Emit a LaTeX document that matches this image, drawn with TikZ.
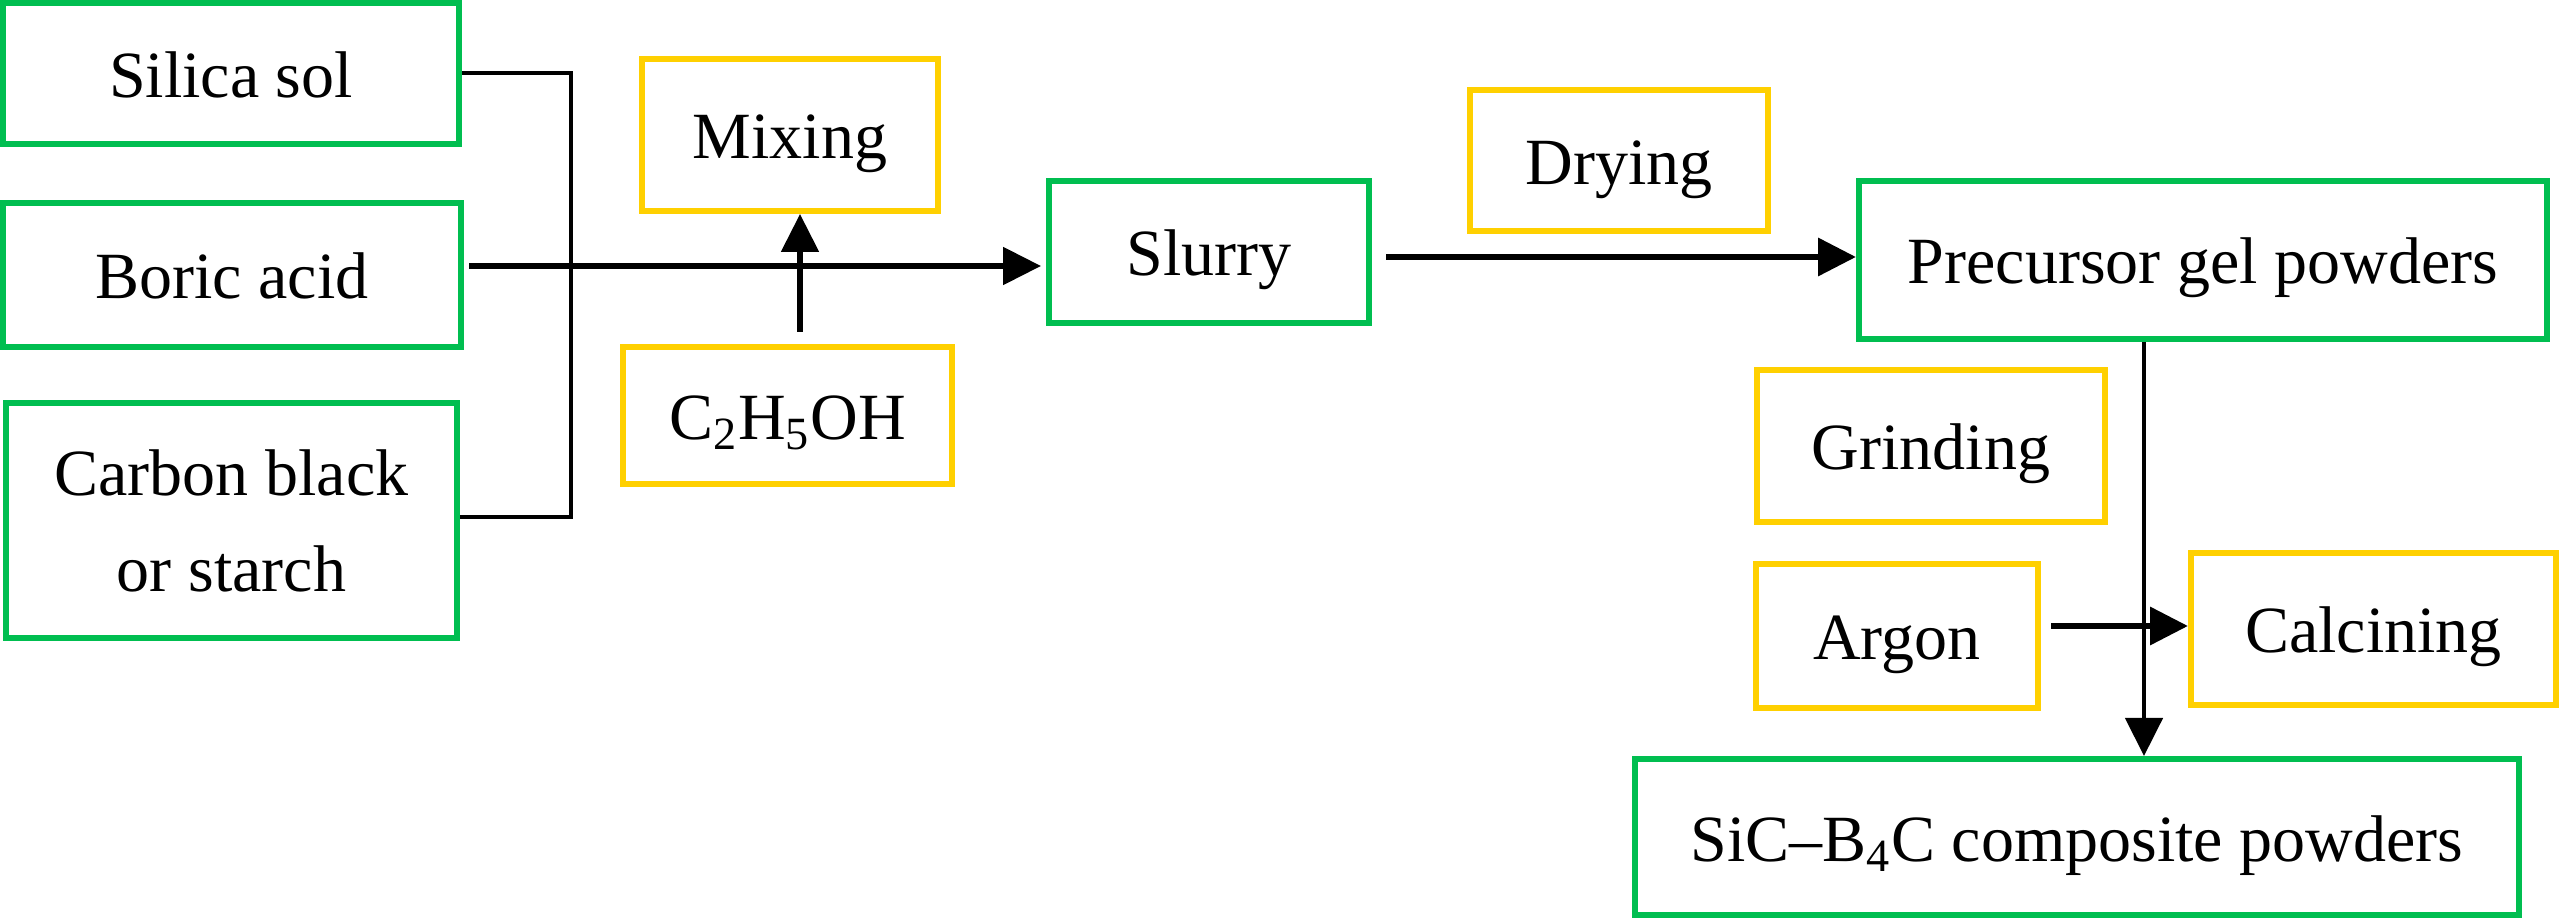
\documentclass[tikz,border=0pt]{standalone}
\usepackage{fontspec}
\setmainfont{Liberation Serif}
\usetikzlibrary{arrows.meta}
\definecolor{boxgreen}{RGB}{0,190,80}
\definecolor{boxyellow}{RGB}{255,208,0}
\begin{document}
\begin{tikzpicture}[x=0.3pt,y=-0.3pt,
  every node/.style={font=\fontsize{19.8}{28.8}\selectfont},
  box/.style={draw, rectangle, line width=1.8pt, inner sep=0pt},
  tx/.style={text height=18.5pt, text depth=4.1pt},
  gbox/.style={box, draw=boxgreen},
  ybox/.style={box, draw=boxyellow},
  sz/.style 2 args={minimum width=#1*0.3pt, minimum height=#2*0.3pt},
  link/.style={line width=1.2pt, line join=miter},
  arr/.style={line width=1.6pt, -{Triangle[length=11.4pt,width=11.1pt]}},
]
\fill[white] (0,0) rectangle (2559,919);
\useasboundingbox (0,0) rectangle (2559,919);

% boxes
\node[gbox, tx, sz={456}{141}] (silica) at (231,73.5) {Silica sol};
\node[gbox, tx, sz={458}{144}] (boric) at (232,275) {Boric acid};
\node[gbox, sz={451}{235}, align=center] (carbon) at (231.5,520.5) {Carbon black\\or starch};
\node[ybox, tx, sz={296}{152}] (mixing) at (790,135) {Mixing};
\node[ybox, tx, sz={329}{137}] (ethanol) at (787.5,415.5) {C\textsubscript{2}H\textsubscript{5}OH};
\node[gbox, tx, sz={320}{142}] (slurry) at (1209,252) {Slurry};
\node[ybox, tx, sz={298}{141}] (drying) at (1619,160.5) {Drying};
\node[gbox, tx, sz={688}{158}] (precursor) at (2203,260) {Precursor gel powders};
\node[ybox, tx, sz={348}{152}] (grinding) at (1931,446) {Grinding};
\node[ybox, tx, sz={282}{144}] (argon) at (1897,636) {Argon};
\node[ybox, tx, sz={365}{152}] (calcining) at (2373.5,629) {Calcining};
\node[gbox, tx, sz={884}{156}] (sic) at (2077,837) {SiC–B\textsubscript{4}C composite powders};

% bracket joining the three raw materials
\coordinate (brtop) at (571,73.5);
\coordinate (brbot) at (571,517);
\draw[link] (silica.east) -- (brtop) -- (brbot) -- (brbot -| carbon.east);

% main flow
\coordinate (boricout) at (469,266);
\draw[arr, shorten >=1.5pt] (boricout) -- (boricout -| slurry.west);

\coordinate (ethout) at (800,332);
\draw[arr] (ethout) -- (ethout |- mixing.south);

\coordinate (slurryout) at (1386,257);
\draw[arr, line width=2pt] (slurryout) -- (slurryout -| precursor.west);

\coordinate (drop) at (2144,0);
\draw[arr, line width=1.4pt] (drop |- precursor.south) -- (drop |- sic.north);

\coordinate (argonout) at (2051,626);
\draw[arr, line width=2pt] (argonout) -- (argonout -| calcining.west);
\end{tikzpicture}
\end{document}
